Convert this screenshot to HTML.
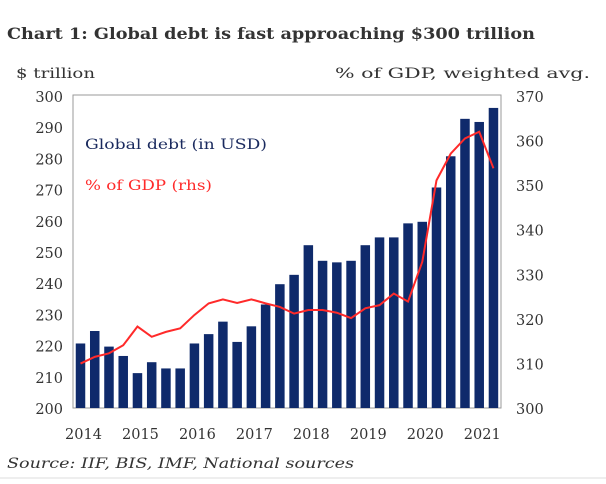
<!DOCTYPE html>
<html><head><meta charset="utf-8"><style>
body{margin:0;background:#fff;width:606px;height:480px;overflow:hidden;font-family:"DejaVu Serif",serif;}
</style></head><body>
<svg width="606" height="480" xmlns="http://www.w3.org/2000/svg" font-family="DejaVu Serif, serif">
<text x="7" y="39" font-size="15.5" font-weight="bold" fill="#333" textLength="528" lengthAdjust="spacingAndGlyphs">Chart 1: Global debt is fast approaching $300 trillion</text>
<text x="16" y="78" font-size="14" fill="#333" textLength="79" lengthAdjust="spacingAndGlyphs">$ trillion</text>
<text x="590" y="78" font-size="14" fill="#333" text-anchor="end" textLength="255" lengthAdjust="spacingAndGlyphs">% of GDP, weighted avg.</text>
<g id="plot"></g>
<text x="85" y="149" font-size="14" fill="#1a2a5e" textLength="182" lengthAdjust="spacingAndGlyphs">Global debt (in USD)</text>
<text x="85" y="190" font-size="14" fill="#ff2a2a" textLength="127" lengthAdjust="spacingAndGlyphs">% of GDP (rhs)</text>
<text x="7" y="468" font-size="14" font-style="italic" fill="#333" textLength="347" lengthAdjust="spacingAndGlyphs">Source: IIF, BIS, IMF, National sources</text>
<line x1="0" y1="478" x2="606" y2="478" stroke="#ddd"/>
</svg>
<script>
const debt=[221,225,220,217,211.5,215,213,213,221,224,228,221.5,226.5,233.5,240,243,252.5,247.5,247,247.5,252.5,255,255,259.5,260,271,281,293,292,296.5];
const gdp=[310.2,311.7,312.5,314.3,318.5,316.2,317.3,318.1,321.1,323.7,324.6,323.8,324.6,323.7,322.9,321.4,322.2,322.2,321.6,320.4,322.6,323.3,325.9,324.1,333,351.3,357.3,360.7,362.2,354];
const leftTicks=[200,210,220,230,240,250,260,270,280,290,300];
const rightTicks=[300,310,320,330,340,350,360,370];
const years=["2014","2015","2016","2017","2018","2019","2020","2021"];
const L=73,R=501,T=95,B=408;
const yL=v=>409-(v-200)*3.12;
const yR=v=>409-(v-300)*(312/70);
const xC=i=>80.5+i*14.24;
const NS="http://www.w3.org/2000/svg";
const g=document.getElementById('plot');
function mk(t,a){const e=document.createElementNS(NS,t);for(const k in a)e.setAttribute(k,a[k]);g.appendChild(e);return e;}
let fr=mk('rect',{x:L,y:T,width:R-L,height:B-T,fill:'none',stroke:'#999'});


debt.forEach((v,i)=>{const y=yL(v);const r=mk('rect',{x:xC(i)-4.75,y:y,width:9.5,height:B-y,fill:'#0f2a6b'});

});
const pl=mk('polyline',{points:gdp.map((v,i)=>xC(i)+','+yR(v)).join(' '),fill:'none',stroke:'#ff2a2a','stroke-width':2});


leftTicks.forEach(v=>{const t=mk('text',{x:63,y:yL(v)+5,'font-size':14.5,fill:'#333','text-anchor':'end'});t.textContent=v;

});
rightTicks.forEach(v=>{const t=mk('text',{x:516,y:yR(v)+5,'font-size':14.5,fill:'#333'});t.textContent=v;

});
years.forEach((s,k)=>{const t=mk('text',{x:xC(k*4)+3,y:439,'font-size':14.5,fill:'#333','text-anchor':'middle'});t.textContent=s;

});
</script>
</body></html>
